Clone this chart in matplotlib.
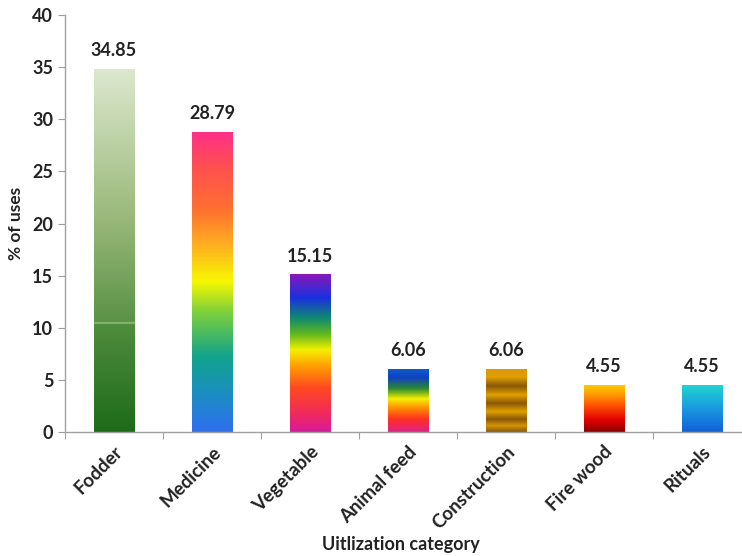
import numpy as np
import matplotlib
matplotlib.use('Agg')
import matplotlib.pyplot as plt
from matplotlib.colors import LinearSegmentedColormap

plt.rcParams['font.family'] = ['Lato', 'DejaVu Sans']

categories = ['Fodder', 'Medicine', 'Vegetable', 'Animal feed', 'Construction', 'Fire wood', 'Rituals']
values = [34.85, 28.79, 15.15, 6.06, 6.06, 4.55, 4.55]
labels = ['34.85', '28.79', '15.15', '6.06', '6.06', '4.55', '4.55']

# gradient stops per bar, bottom -> top
gradients = [
    [(0.0, '#1d6b1a'), (0.296, '#508c3e'), (0.299, '#b0cca0'), (0.302, '#5a9246'),
     (0.6, '#9cba7c'), (1.0, '#dde8cf')],
    [(0.0, '#2f6ef0'), (0.13, '#1a8fc0'), (0.25, '#12a38c'), (0.4, '#7fd03a'),
     (0.5, '#f7f700'), (0.62, '#ffb020'), (0.74, '#ff7030'), (0.88, '#ff5050'), (1.0, '#ff2e8a')],
    [(0.0, '#d81a9c'), (0.12, '#f02a5a'), (0.28, '#ff4a20'), (0.42, '#ffa000'),
     (0.52, '#f4f000'), (0.62, '#60b820'), (0.72, '#108a70'), (0.85, '#1a30e0'), (1.0, '#8a1ab8')],
    [(0.0, '#e0208a'), (0.2, '#ff3020'), (0.38, '#ff9000'), (0.52, '#f4f000'),
     (0.68, '#2a8a30'), (0.85, '#1040c0'), (1.0, '#1060c8')],
    [(0.0, '#8a5808'), (0.1, '#d49408'), (0.2, '#8a5808'), (0.32, '#e0a000'),
     (0.45, '#8a5808'), (0.58, '#e0a000'), (0.72, '#8a5808'), (0.86, '#e0a000'), (1.0, '#d49a10')],
    [(0.0, '#8c0000'), (0.25, '#e00000'), (0.55, '#ff5000'), (0.8, '#ffa000'), (1.0, '#ffd000')],
    [(0.0, '#1060d8'), (0.5, '#1a9ae0'), (1.0, '#20d8d0')],
]

fig = plt.figure(figsize=(7.42, 5.56), dpi=100)
ax = fig.add_axes([0.0876, 0.223, 0.9124, 0.75])

x = np.arange(len(categories))
width = 0.41
bars = ax.bar(x, values, width=width, color='none', edgecolor='none', zorder=2)
grad = np.linspace(0, 1, 512).reshape(-1, 1)
for b, stops in zip(bars, gradients):
    cmap = LinearSegmentedColormap.from_list('g', stops, N=512)
    x0, y0 = b.get_x(), b.get_y()
    im = ax.imshow(grad, cmap=cmap, origin='lower', aspect='auto', interpolation='bilinear',
                   extent=[x0, x0 + b.get_width(), y0, y0 + b.get_height()], zorder=2)
    im.set_clip_path(b)

for b, lab in zip(bars, labels):
    ax.text(b.get_x() + b.get_width() / 2, b.get_height() + 0.9, lab,
            ha='center', va='bottom', fontsize=13, fontweight='bold', color='#222222')

ax.set_xlim(-0.5, 6.41)
ax.set_ylim(0, 40)
ax.set_yticks(range(0, 41, 5))
ax.set_xticks(np.arange(-0.5, 6.5, 1.0))
ax.set_xticklabels([])
ax.set_xticks(x, minor=True)
ax.set_xticklabels(categories, minor=True, rotation=45, ha='right', rotation_mode='anchor',
                   fontsize=13.5, fontweight='bold', color='#222222')
ax.tick_params(axis='x', which='minor', length=0, pad=8)
ax.tick_params(axis='x', which='major', length=5, color='#a0a0a0')
ax.tick_params(axis='y', length=5, color='#a0a0a0', labelsize=13, labelcolor='#222222')
for t in ax.get_yticklabels():
    t.set_fontweight('bold')

for s in ['top', 'right']:
    ax.spines[s].set_visible(False)
for s in ['left', 'bottom']:
    ax.spines[s].set_color('#a0a0a0')
    ax.spines[s].set_linewidth(1.0)

ax.set_ylabel('% of uses', fontsize=12.5, fontweight='bold', color='#222222', labelpad=6)
fig.text(0.54, 0.006, 'Uitlization category', ha='center', va='bottom',
         fontsize=13, fontweight='bold', color='#222222')

fig.savefig('out.png', dpi=100)
